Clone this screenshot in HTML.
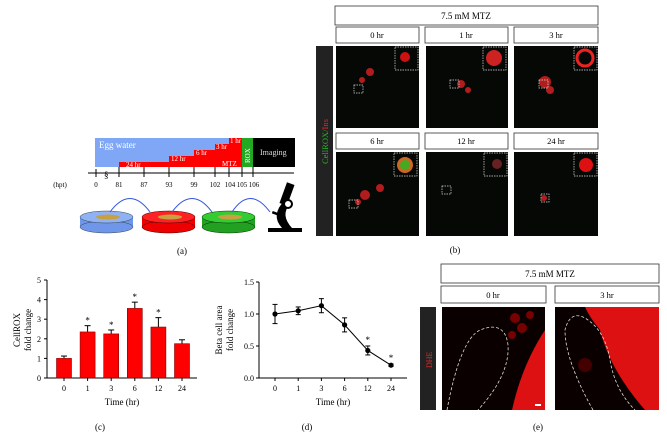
<!DOCTYPE html>
<html><head><meta charset="utf-8"><style>
body{margin:0;background:#fff;width:667px;height:447px;overflow:hidden;font-family:"Liberation Serif",serif}
svg{position:absolute;left:0;top:0}
</style></head><body>
<svg width="667" height="447" viewBox="0 0 667 447" font-family="Liberation Serif, serif">
<!-- Panel a -->
<g>
<rect x="95" y="138" width="147" height="29" fill="#7fa7f5"/>
<text x="99" y="148" font-size="9" fill="#fff">Egg water</text>
<rect x="119" y="162" width="123" height="5" fill="#f00"/>
<rect x="169" y="156" width="73" height="11" fill="#f00"/>
<rect x="194" y="150" width="48" height="17" fill="#f00"/>
<rect x="215" y="144" width="27" height="23" fill="#f00"/>
<rect x="229" y="138" width="13" height="29" fill="#f00"/>
<g font-size="7" fill="#fff"><text x="126" y="167">24 hr</text><text x="171" y="161">12 hr</text><text x="196" y="155">6 hr</text><text x="216" y="149">3 hr</text><text x="230" y="143">1 hr</text><text x="222" y="166">MTZ</text></g>
<rect x="242" y="138" width="11" height="29" fill="#22a822"/>
<text transform="translate(250,163) rotate(-90)" font-size="7" fill="#fff">ROX</text>
<rect x="253" y="138" width="42" height="29" fill="#000"/>
<text x="260" y="155" font-size="8" fill="#ddd">Imaging</text>
<line x1="88" y1="173" x2="294" y2="173" stroke="#555" stroke-width="1.5"/>
<text x="104" y="178" font-size="9">§</text>
<g stroke="#000" stroke-width="1">
<line x1="96" y1="169" x2="96" y2="177"/><line x1="119" y1="167" x2="119" y2="177"/><line x1="144" y1="167" x2="144" y2="177"/><line x1="169" y1="167" x2="169" y2="177"/><line x1="194" y1="167" x2="194" y2="177"/><line x1="215" y1="167" x2="215" y2="177"/><line x1="229" y1="167" x2="229" y2="177"/><line x1="242" y1="167" x2="242" y2="177"/><line x1="253" y1="167" x2="253" y2="177"/>
</g>
<g font-size="7" text-anchor="middle"><text x="96" y="187">0</text><text x="119" y="187">81</text><text x="144" y="187">87</text><text x="169" y="187">93</text><text x="194" y="187">99</text><text x="215" y="187">102</text><text x="230" y="187">104</text><text x="242" y="187">105</text><text x="254" y="187">106</text><text x="60" y="187">(hpt)</text></g>
</g>
<g>
<g><rect x="80" y="217" width="53" height="10" fill="#6f96e8"/><ellipse cx="106.5" cy="227" rx="26.5" ry="6" fill="#6f96e8" stroke="#345" stroke-width=".5"/><ellipse cx="106.5" cy="217" rx="26.5" ry="6" fill="#8fb2f5" stroke="#345" stroke-width=".5"/><ellipse cx="108" cy="217" rx="12" ry="2.5" fill="#c8a040"/></g>
<g><rect x="142" y="217" width="53" height="10" fill="#e00"/><ellipse cx="168.5" cy="227" rx="26.5" ry="6" fill="#e00" stroke="#400" stroke-width=".5"/><ellipse cx="168.5" cy="217" rx="26.5" ry="6" fill="#f22" stroke="#400" stroke-width=".5"/><ellipse cx="170" cy="217" rx="12" ry="2.5" fill="#c8a040"/></g>
<g><rect x="202" y="217" width="53" height="10" fill="#22a022"/><ellipse cx="228.5" cy="227" rx="26.5" ry="6" fill="#22a022" stroke="#030" stroke-width=".5"/><ellipse cx="228.5" cy="217" rx="26.5" ry="6" fill="#3c3" stroke="#030" stroke-width=".5"/><ellipse cx="230" cy="217" rx="12" ry="2.5" fill="#c8a040"/></g>
<g fill="none" stroke="#3355dd" stroke-width="1"><path d="M110 212 Q130 185 150 212"/><path d="M172 212 Q192 185 212 212"/><path d="M232 212 Q250 185 270 212"/></g>
<g fill="#000"><rect x="268" y="228" width="34" height="4"/><path d="M282 228 Q270 215 285 200 L290 204 Q280 215 292 228Z"/><rect x="283" y="183" width="8" height="22" transform="rotate(20 287 194)"/><circle cx="288" cy="204" r="4" fill="#fff" stroke="#000" stroke-width="2"/><rect x="272" y="213" width="12" height="2.5" transform="rotate(20 278 214)"/></g>
</g>
<text x="182" y="254" font-size="9" text-anchor="middle">(a)</text>

<!-- Panel b -->
<g>
<rect x="335" y="6" width="263" height="19" fill="#fff" stroke="#333" stroke-width=".8"/>
<text x="466" y="19" font-size="9" text-anchor="middle">7.5 mM MTZ</text>
<g fill="#fff" stroke="#333" stroke-width=".8">
<rect x="336" y="27" width="83" height="16"/><rect x="425" y="27" width="83" height="16"/><rect x="514" y="27" width="84" height="16"/>
<rect x="336" y="133" width="83" height="16"/><rect x="425" y="133" width="83" height="16"/><rect x="514" y="133" width="84" height="16"/>
</g>
<g font-size="8.5" text-anchor="middle"><text x="377" y="38">0 hr</text><text x="466" y="38">1 hr</text><text x="556" y="38">3 hr</text><text x="377" y="144">6 hr</text><text x="466" y="144">12 hr</text><text x="556" y="144">24 hr</text></g>
<rect x="316" y="46" width="17" height="190" fill="#222"/>
<text transform="translate(328,164) rotate(-90)" font-size="8.5" fill="#22bb22">CellROX/<tspan fill="#e22">Ins</tspan></text>
<g fill="#050805">
<rect x="336" y="46" width="83" height="82"/><rect x="426" y="46" width="82" height="82"/><rect x="514" y="46" width="84" height="82"/>
<rect x="336" y="152" width="83" height="84"/><rect x="426" y="152" width="82" height="84"/><rect x="514" y="152" width="84" height="84"/>
</g>
<g fill="#d22" opacity=".8"><circle cx="370" cy="72" r="4"/><circle cx="362" cy="80" r="3"/><circle cx="461" cy="84" r="4"/><circle cx="468" cy="90" r="3"/><circle cx="545" cy="82" r="6"/><circle cx="550" cy="90" r="4"/><circle cx="365" cy="195" r="5"/><circle cx="380" cy="188" r="4"/><circle cx="358" cy="202" r="3"/><circle cx="544" cy="198" r="3"/></g>
<g fill="none" stroke="#ddd" stroke-width=".7" stroke-dasharray="1.5,1">
<rect x="395" y="47" width="23" height="23"/><rect x="483" y="47" width="23" height="23"/><rect x="574" y="47" width="23" height="23"/>
<rect x="394" y="153" width="23" height="23"/><rect x="484" y="153" width="23" height="23"/><rect x="574" y="153" width="23" height="23"/>
<rect x="354" y="85" width="9" height="8"/><rect x="450" y="80" width="9" height="8"/><rect x="539" y="80" width="9" height="8"/><rect x="349" y="200" width="9" height="8"/><rect x="442" y="186" width="9" height="8"/><rect x="541" y="194" width="8" height="8"/>
</g>
<g><circle cx="405" cy="57" r="5" fill="#c11"/><circle cx="494" cy="58" r="8" fill="#c22"/><circle cx="585" cy="58" r="8" fill="none" stroke="#e22" stroke-width="3"/><circle cx="405" cy="165" r="8" fill="#c62"/><circle cx="405" cy="165" r="5" fill="#4a2"/><circle cx="497" cy="164" r="5" fill="#622"/><circle cx="586" cy="165" r="7" fill="#d11"/></g>
</g>
<text x="455" y="253" font-size="9" text-anchor="middle">(b)</text>

<!-- Panel c -->
<g id="chartC"></g>
<text x="100" y="430" font-size="9" text-anchor="middle">(c)</text>
<!-- Panel d -->
<g id="chartD"></g>
<text x="307" y="430" font-size="9" text-anchor="middle">(d)</text>

<!-- Panel e -->
<g>
<rect x="441" y="264" width="218" height="19" fill="#fff" stroke="#333" stroke-width=".8"/>
<text x="550" y="277" font-size="9" text-anchor="middle">7.5 mM MTZ</text>
<rect x="441" y="286" width="105" height="17" fill="#fff" stroke="#333" stroke-width=".8"/>
<rect x="555" y="286" width="104" height="17" fill="#fff" stroke="#333" stroke-width=".8"/>
<text x="493" y="298" font-size="8.5" text-anchor="middle">0 hr</text>
<text x="607" y="298" font-size="8.5" text-anchor="middle">3 hr</text>
<rect x="420" y="307" width="16" height="103" fill="#222"/>
<text transform="translate(432,368) rotate(-90)" font-size="8" fill="#e22">DHE</text>
<rect x="442" y="307" width="103" height="103" fill="#0a0000"/>
<path d="M545 330 L545 410 L512 410 Q522 365 545 330Z" fill="#d11"/>
<g fill="#700"><circle cx="515" cy="318" r="5"/><circle cx="522" cy="328" r="5"/><circle cx="512" cy="335" r="4"/><circle cx="530" cy="315" r="4"/></g>
<rect x="555" y="307" width="104" height="103" fill="#0a0000"/>
<path d="M585 307 L659 307 L659 410 L645 410 Q610 370 600 330 Q590 318 585 307Z" fill="#d11"/>
<circle cx="585" cy="365" r="7" fill="#400"/>
<g fill="none" stroke="#ddd" stroke-width=".8" stroke-dasharray="3,2">
<path d="M447 410 Q460 340 480 330 Q505 320 508 345 Q510 375 478 410"/>
<path d="M593 410 Q565 360 565 330 Q570 310 585 318 Q605 330 610 360 Q615 390 635 410"/>
</g>
<rect x="535" y="404" width="6" height="2" fill="#fff"/>
</g>
<text x="538" y="430" font-size="9" text-anchor="middle">(e)</text>
</svg>
<script>
const ns="http://www.w3.org/2000/svg";
const cCats=["0","1","3","6","12","24"];
const cVals=[1.0,2.35,2.25,3.55,2.6,1.75];
const cErrs=[0.12,0.32,0.2,0.32,0.48,0.2];
const cSig=[false,true,true,true,true,false];
const cTicks=[0,1,2,3,4,5];
const dCats=["0","1","3","6","12","24"];
const dVals=[1.0,1.05,1.13,0.83,0.43,0.2];
const dErrs=[0.15,0.06,0.11,0.11,0.07,0.02];
const dSig=[false,false,false,false,true,true];
const dTicks=["0.0","0.5","1.0","1.5"];
function mk(tag,attrs,parent,txt){const e=document.createElementNS(ns,tag);for(const k in attrs)e.setAttribute(k,attrs[k]);if(txt!==undefined)e.textContent=txt;parent.appendChild(e);return e;}
(function(){
const g=document.getElementById('chartC');
const x0=47,x1=197,y0=378,yTop=280,max=5;
const y=v=>y0-(v/max)*(y0-yTop);
const xc=i=>64+i*23.6;
let ax=mk('line',{x1:x0,y1:yTop,x2:x0,y2:y0,stroke:'#000','stroke-width':1},g);


let bx=mk('line',{x1:x0,y1:y0,x2:x1,y2:y0,stroke:'#000','stroke-width':1},g);


cTicks.forEach(t=>{mk('line',{x1:x0-3,y1:y(t),x2:x0,y2:y(t),stroke:'#000'},g);
const l=mk('text',{x:x0-6,y:y(t)+3,'font-size':8,'text-anchor':'end'},g,String(t));

});
cCats.forEach((c,i)=>{
const v=cVals[i],e=cErrs[i],cx=xc(i);
mk('line',{x1:cx,y1:y(v),x2:cx,y2:y(v+e),stroke:'#000'},g);
mk('line',{x1:cx-3,y1:y(v+e),x2:cx+3,y2:y(v+e),stroke:'#000'},g);
const b=mk('rect',{x:cx-7.5,y:y(v),width:15,height:y0-y(v),fill:'#f00',stroke:'#800','stroke-width':.6},g);


if(cSig[i]){const s=mk('text',{x:cx,y:y(v+e)-2,'font-size':9,'text-anchor':'middle'},g,'*');

}
mk('line',{x1:cx,y1:y0,x2:cx,y2:y0+3,stroke:'#000'},g);
const l=mk('text',{x:cx,y:y0+13,'font-size':8,'text-anchor':'middle'},g,c);


});
const xt=mk('text',{x:122,y:405,'font-size':9,'text-anchor':'middle'},g,'Time (hr)');


const yt=mk('text',{transform:'translate(20,330) rotate(-90)','font-size':9,'text-anchor':'middle'},g);


mk('tspan',{x:0,dy:0},yt,'CellROX');mk('tspan',{x:0,dy:11},yt,'fold change');
})();
(function(){
const g=document.getElementById('chartD');
const x0=259,x1=407,y0=378,yTop=282,max=1.5;
const y=v=>y0-(v/max)*(y0-yTop);
const xc=i=>275+i*23.2;
let ax=mk('line',{x1:x0,y1:yTop,x2:x0,y2:y0,stroke:'#000'},g);


let bx=mk('line',{x1:x0,y1:y0,x2:x1,y2:y0,stroke:'#000'},g);


dTicks.forEach(t=>{const v=parseFloat(t);mk('line',{x1:x0-3,y1:y(v),x2:x0,y2:y(v),stroke:'#000'},g);
const l=mk('text',{x:x0-5,y:y(v)+3,'font-size':8,'text-anchor':'end'},g,t);

});
const pts=dVals.map((v,i)=>xc(i)+','+y(v)).join(' ');
const pl=mk('polyline',{points:pts,fill:'none',stroke:'#000','stroke-width':1},g);


dCats.forEach((c,i)=>{
const v=dVals[i],e=dErrs[i],cx=xc(i);
mk('line',{x1:cx,y1:y(v-e),x2:cx,y2:y(v+e),stroke:'#000'},g);
mk('line',{x1:cx-2.5,y1:y(v+e),x2:cx+2.5,y2:y(v+e),stroke:'#000'},g);
mk('line',{x1:cx-2.5,y1:y(v-e),x2:cx+2.5,y2:y(v-e),stroke:'#000'},g);
const p=mk('circle',{cx:cx,cy:y(v),r:2.6,fill:'#000'},g);


if(dSig[i]){const s=mk('text',{x:cx,y:y(v+e)-3,'font-size':9,'text-anchor':'middle'},g,'*');

}
mk('line',{x1:cx,y1:y0,x2:cx,y2:y0+3,stroke:'#000'},g);
const l=mk('text',{x:cx,y:y0+13,'font-size':8,'text-anchor':'middle'},g,c);


});
const xt=mk('text',{x:333,y:405,'font-size':9,'text-anchor':'middle'},g,'Time (hr)');


const yt=mk('text',{transform:'translate(222,330) rotate(-90)','font-size':9,'text-anchor':'middle'},g);


mk('tspan',{x:0,dy:0},yt,'Beta cell area');mk('tspan',{x:0,dy:11},yt,'fold change');
})();
</script>
</body></html>
